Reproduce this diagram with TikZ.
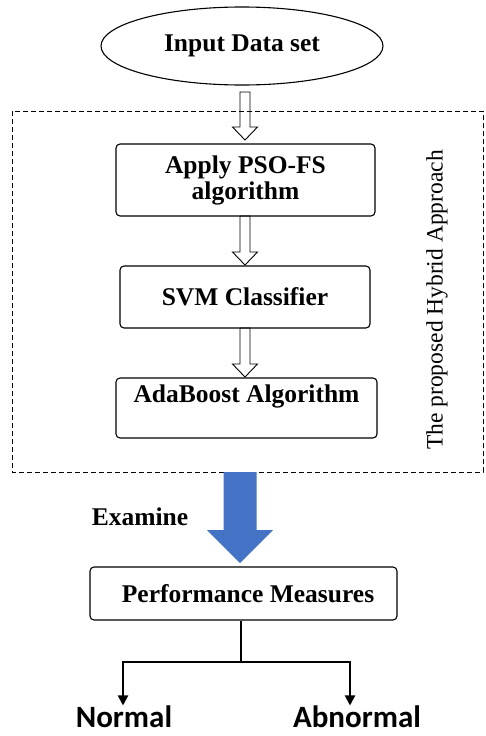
\documentclass[tikz,border=0pt]{standalone}
\usepackage{fontspec}
\setmainfont{Liberation Serif}
\newfontfamily\labelfont{Carlito}
\usetikzlibrary{shapes.geometric,arrows.meta,calc}
\definecolor{flowblue}{HTML}{4472C4}
\tikzset{
  boxfont/.style={font=\fontsize{25.5}{26}\selectfont\bfseries},
  stepbox/.style={draw, rounded corners=4pt, line width=1.1pt, align=center,
    boxfont, inner sep=0pt},
  hollow/.style={draw, line width=0.9pt, line join=miter},
  treeline/.style={line width=2pt, -{Triangle[width=10pt,length=10pt]}},
  outcome/.style={font=\fontsize{31}{33}\selectfont\labelfont\bfseries},
}
% hollow block arrow from #1 (tail centre) down to #2 (tip)
\newcommand\hollowarrow[2]{%
  \draw[hollow] ($(#1)+(-5,0)$) -- ($(#2)+(-5,-13)$) -- ($(#2)+(-12.5,-13)$)
    -- (#2) -- ($(#2)+(12.5,-13)$) -- ($(#2)+(5,-13)$) -- ($(#1)+(5,0)$) -- cycle;}
\begin{document}
\begin{tikzpicture}[x=1pt,y=-1pt]
\useasboundingbox (0,0) rectangle (485,736);

% hybrid approach frame
\draw[line width=1pt, dash pattern=on 5pt off 3pt] (12,111) rectangle (483,472);
\node[rotate=90, font=\fontsize{23.5}{25}\selectfont] (hyb) at (437,300) {The proposed Hybrid Approach};

% input
\node[ellipse, draw, line width=1.1pt, minimum width=282pt, minimum height=78pt,
  inner sep=0pt, boxfont] (in) at (242,46) {Input Data set};

% hybrid pipeline
\node[stepbox, minimum width=259pt, minimum height=72pt] (pso) at (245.5,180) {Apply PSO-FS\\algorithm};
\node[stepbox, minimum width=250pt, minimum height=62pt] (svm) at (245,297) {SVM Classifier};
\node[stepbox, minimum width=261pt, minimum height=60pt] (ada) at (246.5,408) {AdaBoost Algorithm\\[-6pt]\strut};

\coordinate (t1) at (245,92);   \coordinate (p1) at (245,140);
\coordinate (t2) at (245,216);  \coordinate (p2) at (245,265);
\coordinate (t3) at (245,328);  \coordinate (p3) at (245,377);
\hollowarrow{t1}{p1}
\hollowarrow{t2}{p2}
\hollowarrow{t3}{p3}

% evaluation
\node[stepbox, minimum width=307pt, minimum height=53pt] (perf) at (243.5,593.5) {\hspace*{9pt}Performance Measures};
\node[boxfont] (exam) at (140,517) {Examine};

\coordinate (bt) at (240,472);
\coordinate (bp) at (240,563);
\fill[flowblue] ($(bt)+(-16.5,0)$) -- ($(bp)+(-16.5,-33)$) -- ($(bp)+(-33,-33)$) -- (bp)
  -- ($(bp)+(33,-33)$) -- ($(bp)+(16.5,-33)$) -- ($(bt)+(16.5,0)$) -- cycle;

% outcomes
\node[outcome] (nor) at (124,717) {Normal};
\node[outcome] (abn) at (357,717) {Abnormal};
\coordinate (split) at (241,662);
\draw[line width=2pt] (perf.south -| split) -- (split);
\draw[treeline] (split) -| ($(nor.north)+(-1,3)$);
\draw[treeline] (split) -| ($(abn.north)+(-7,3)$);
\end{tikzpicture}
\end{document}
